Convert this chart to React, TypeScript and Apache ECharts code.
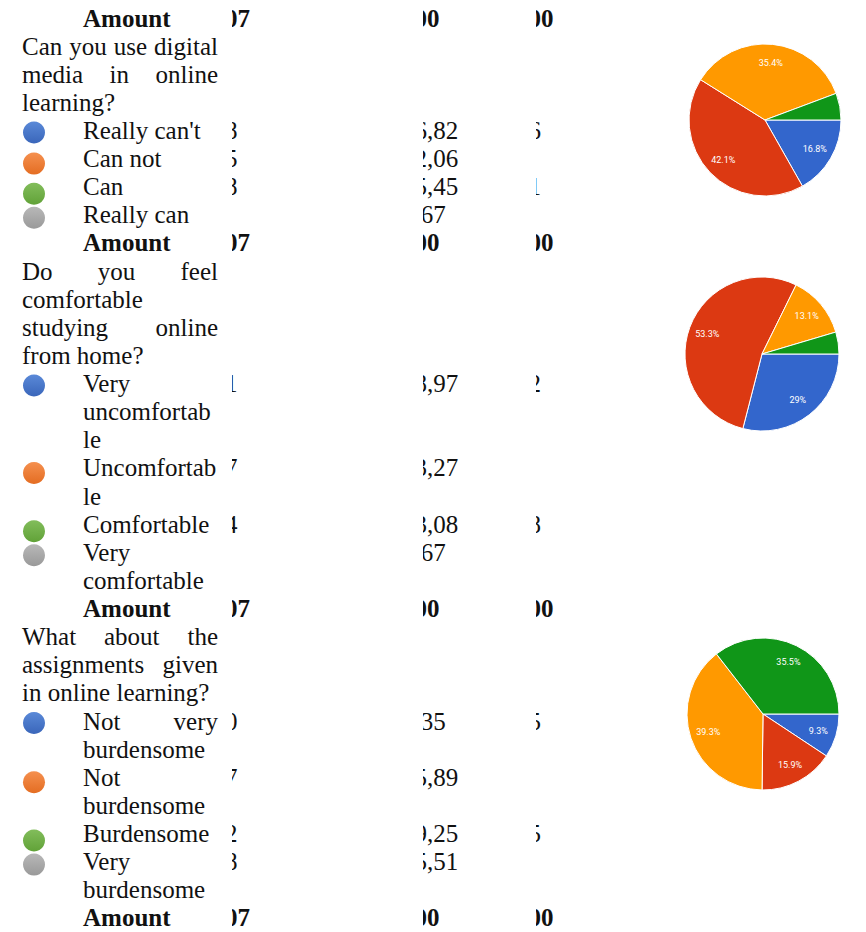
import React, { useEffect, useRef } from "react";
import * as echarts from "echarts";

// ---------- data ----------
const totalRow = ["Amount", "107", "100", "100"];

const q1Lines = ["Can you use digital", "media in online", "learning?"];
const q1Options = ["Really can't", "Can not", "Can", "Really can"];
const q1OptionLines = [["Really can't"], ["Can not"], ["Can"], ["Really can"]];
const q1Counts = ["18", "45", "38", "6"];
const q1Percent = ["16,82", "42,06", "35,45", "5,67"];
const q1Extra = ["16", "", "41", ""];
const pie1Values = [16.8, 42.1, 35.4, 5.7];

const q2Lines = ["Do you feel", "comfortable", "studying online", "from home?"];
const q2Options = ["Very uncomfortable", "Uncomfortable", "Comfortable", "Very comfortable"];
const q2OptionLines = [["Very", "uncomfortab", "le"], ["Uncomfortab", "le"], ["Comfortable"], ["Very", "comfortable"]];
const q2Counts = ["31", "57", "14", "5"];
const q2Percent = ["28,97", "53,27", "13,08", "4,67"];
const q2Extra = ["22", "", "18", ""];
const pie2Values = [29, 53.3, 13.1, 4.6];

const q3Lines = ["What about the", "assignments given", "in online learning?"];
const q3Options = ["Not very burdensome", "Not burdensome", "Burdensome", "Very burdensome"];
const q3OptionLines = [["Not very", "burdensome"], ["Not", "burdensome"], ["Burdensome"], ["Very", "burdensome"]];
const q3Counts = ["10", "17", "42", "38"];
const q3Percent = ["9,35", "15,89", "39,25", "35,51"];
const q3Extra = ["15", "", "15", ""];
const pie3Values = [9.3, 15.9, 39.3, 35.5];

// ---------- styles ----------
const FONT = '"Liberation Serif", "Times New Roman", serif';
const FS = 25;
const TEXT_COLOR = "#111";
const PIE_COLORS = ["#3366cc", "#dc3912", "#ff9900", "#109618"];
const BULLET_COLORS = [
  ["#5a89d8", "#3a66ba"],
  ["#f5904f", "#e46d22"],
  ["#82bd5b", "#61a238"],
  ["#b8b8b8", "#999999"],
];
const BULLET_OFFSETS = [2, 5, 7, 3];

const Q_X0 = 22;
const Q_X1 = 218;
const L_X0 = 83;
const COL_X = [212.5, 402, 516];
const COL_CLIP = [232, 423, 536];
const LINE_Y0 = 18;
const LINE_STEP = 28.12;

const sections = [
  { lines: q1Lines, options: q1Options, optionLines: q1OptionLines, counts: q1Counts, percent: q1Percent, extra: q1Extra, pie: pie1Values, center: [765, 120], r: 76 },
  { lines: q2Lines, options: q2Options, optionLines: q2OptionLines, counts: q2Counts, percent: q2Percent, extra: q2Extra, pie: pie2Values, center: [762, 354], r: 77 },
  { lines: q3Lines, options: q3Options, optionLines: q3OptionLines, counts: q3Counts, percent: q3Percent, extra: q3Extra, pie: pie3Values, center: [763, 714], r: 76 },
];

export default function App() {
  const ref = useRef<HTMLDivElement>(null);

  useEffect(() => {
    if (!ref.current) return;
    const chart = echarts.init(ref.current, null, { renderer: "svg" });
    const canvas = document.createElement("canvas");
    const ctx = canvas.getContext("2d")!;
    const measure = (t: string, bold = false) => {
      ctx.font = `${bold ? "bold " : ""}${FS}px ${FONT}`;
      return ctx.measureText(t).width;
    };

    const elements: any[] = [];
    const textEl = (text: string, x: number, y: number, bold = false) => {
      elements.push({
        type: "text",
        x,
        y,
        z: 1,
        silent: true,
        style: {
          text,
          fontSize: FS,
          fontFamily: FONT,
          fontWeight: bold ? "bold" : "normal",
          fill: TEXT_COLOR,
          verticalAlign: "middle",
          align: "left",
        },
      });
    };
    const line = (text: string, x0: number, x1: number, y: number, justify: boolean) => {
      const words = text.split(" ");
      if (!justify || words.length < 2) {
        textEl(text, x0, y);
        return;
      }
      const widths = words.map((w) => measure(w));
      const total = widths.reduce((a, b) => a + b, 0);
      const gap = (x1 - x0 - total) / (words.length - 1);
      let x = x0;
      words.forEach((w, i) => {
        textEl(w, x, y);
        x += widths[i] + gap;
      });
    };
    // a table cell whose left part is cut off by the page edge of the scan
    const cell = (value: string, col: number, y: number, bold = false) => {
      if (!value) return;
      let k = 0;
      while (k < value.length && COL_X[col] + measure(value.slice(0, k + 1), bold) <= COL_CLIP[col]) k++;
      if (k >= value.length) return;
      textEl(value.slice(k), COL_X[col] + measure(value.slice(0, k), bold), y, bold);
    };
    const yAt = (i: number) => LINE_Y0 + LINE_STEP * i;

    const amountRow = (y: number) => {
      textEl(totalRow[0], L_X0, y, true);
      cell(totalRow[1], 0, y, true);
      cell(totalRow[2], 1, y, true);
      cell(totalRow[3], 2, y, true);
    };

    let i = 0;
    sections.forEach((s) => {
      amountRow(yAt(i));
      i++;
      s.lines.forEach((t, li) => {
        line(t, Q_X0, Q_X1, yAt(i), li < s.lines.length - 1);
        i++;
      });
      s.optionLines.forEach((ol, k) => {
        const y = yAt(i);
        const [c0, c1] = BULLET_COLORS[k];
        elements.push({
          type: "circle",
          z: 1,
          silent: true,
          shape: { cx: 34, cy: y + BULLET_OFFSETS[k], r: 11 },
          style: {
            fill: new echarts.graphic.LinearGradient(0, 0, 0, 1, [
              { offset: 0, color: c0 },
              { offset: 1, color: c1 },
            ]),
          },
        });
        cell(s.counts[k], 0, y);
        cell(s.percent[k], 1, y);
        cell(s.extra[k], 2, y);
        ol.forEach((t, li) => {
          line(t, L_X0, Q_X1, yAt(i), li < ol.length - 1);
          i++;
        });
      });
    });
    amountRow(yAt(i));

    // masks that cut the table columns like the scanned page
    [[220, 232], [400, 423], [512, 536]].forEach(([a, b]) => {
      elements.push({
        type: "rect",
        z: 5,
        silent: true,
        shape: { x: a, y: 0, width: b - a, height: 932 },
        style: { fill: "#ffffff" },
      });
    });

    const series: any[] = [];
    sections.forEach((s) => {
      const data = s.pie.map((v, k) => ({ name: s.options[k], value: v, itemStyle: { color: PIE_COLORS[k] } }));
      series.push({
        type: "pie",
        center: s.center,
        radius: s.r,
        startAngle: 0,
        clockwise: true,
        silent: true,
        data,
        label: { show: false },
        labelLine: { show: false },
        itemStyle: { borderColor: "#ffffff", borderWidth: 1 },
      });
      series.push({
        type: "pie",
        center: s.center,
        radius: [s.r * 0.44, s.r],
        startAngle: 0,
        clockwise: true,
        silent: true,
        data: s.pie.map((v, k) => ({ name: s.options[k], value: v })),
        itemStyle: { color: "rgba(0,0,0,0)" },
        labelLine: { show: false },
        label: {
          show: true,
          position: "inside",
          color: "#ffffff",
          fontSize: 9,
          fontFamily: "Roboto, Arial, sans-serif",
          formatter: (p: any) => (p.value < 6 ? "" : `${p.value}%`),
        },
      });
    });

    chart.setOption({
      animation: false,
      backgroundColor: "#ffffff",
      graphic: { elements },
      series,
    });

    return () => chart.dispose();
  }, []);

  return (
    <div
      ref={ref}
      style={{ position: "absolute", left: 0, top: 0, width: 866, height: 932 }}
    />
  );
}
